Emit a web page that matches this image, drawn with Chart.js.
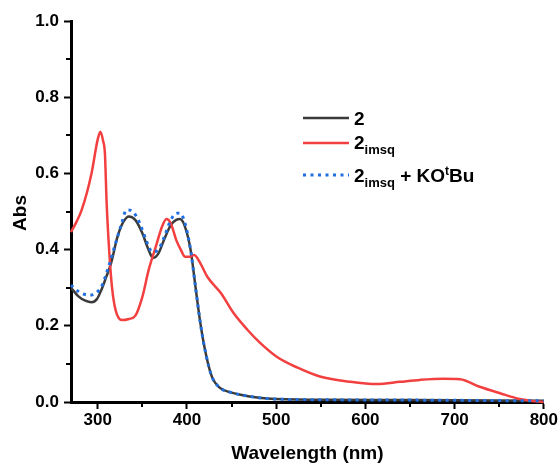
<!DOCTYPE html>
<html>
<head>
<meta charset="utf-8">
<script src="https://cdn.jsdelivr.net/npm/chart.js@4.4.0/dist/chart.umd.min.js"></script>
<style>
  html, body { margin: 0; padding: 0; background: #fff; }
  canvas { display: block; }
</style>
</head>
<body>
<canvas id="uvvis" width="559" height="466"></canvas>
<script>
// Spektren (Wellenlänge in nm, Absorbanz)
const wl2 = [270, 278, 286, 293, 299, 304, 309, 315, 322, 329, 335, 342, 350, 356, 362, 368, 375, 382, 388, 392, 397, 404, 410, 415, 421, 428, 437, 448, 460, 490, 550, 650, 800];
const abs2 = [0.300, 0.278, 0.266, 0.262, 0.270, 0.294, 0.325, 0.365, 0.433, 0.474, 0.487, 0.478, 0.443, 0.405, 0.378, 0.390, 0.430, 0.465, 0.478, 0.480, 0.465, 0.400, 0.294, 0.207, 0.128, 0.066, 0.037, 0.026, 0.019, 0.009, 0.006, 0.005, 0.003];

const wlImsq = [270, 276, 282, 293, 300, 303, 306, 308, 310, 313, 316, 320, 327, 335, 342, 350, 357, 365, 372, 377, 382, 388, 393, 398, 403, 408, 415, 423, 438, 452, 468, 482, 501, 524, 549, 583, 613, 639, 661, 687, 706, 728, 751, 773, 790, 800];
const absImsq = [0.446, 0.472, 0.504, 0.600, 0.690, 0.709, 0.685, 0.653, 0.520, 0.390, 0.300, 0.241, 0.215, 0.218, 0.226, 0.276, 0.346, 0.407, 0.460, 0.480, 0.468, 0.425, 0.400, 0.381, 0.381, 0.386, 0.364, 0.328, 0.286, 0.234, 0.189, 0.155, 0.118, 0.090, 0.067, 0.053, 0.047, 0.053, 0.058, 0.061, 0.060, 0.040, 0.023, 0.008, 0.002, 0.000];

const wlBase = [270, 279, 286, 293, 299, 304, 312, 320, 327, 332, 337, 343, 349, 355, 361, 368, 374, 382, 388, 392, 397, 404, 410, 415, 421, 428, 437, 448, 460, 490, 550, 650, 800];
const absBase = [0.307, 0.289, 0.282, 0.281, 0.288, 0.302, 0.354, 0.417, 0.470, 0.504, 0.503, 0.488, 0.458, 0.420, 0.394, 0.400, 0.430, 0.478, 0.495, 0.496, 0.475, 0.400, 0.294, 0.207, 0.128, 0.066, 0.037, 0.026, 0.019, 0.009, 0.006, 0.005, 0.003];

const xTicks = [300, 400, 500, 600, 700, 800];
const xMinor = [350, 450, 550, 650, 750];
const yTicks = [0, 0.2, 0.4, 0.6, 0.8, 1.0];
const yMinor = [0.1, 0.3, 0.5, 0.7, 0.9];

const FONT = "'Liberation Sans', Arial, sans-serif";
const colors = { black: '#3b3b3b', red: '#f23f3f', blue: '#1f6fe0' };

function toPoints(xs, ys) {
    return xs.map((x, i) => ({ x: x, y: ys[i] }));
}

// kleine Ticks, Achsentitel und Legende (mit Index) selbst zeichnen
const extrasPlugin = {
    id: 'extras',
    afterDraw(chart) {
        const ctx = chart.ctx;
        const area = chart.chartArea;
        const sx = chart.scales.x;
        const sy = chart.scales.y;

        ctx.save();
        ctx.strokeStyle = '#000';
        ctx.lineWidth = 2;
        xMinor.forEach(v => {
            const px = Math.round(sx.getPixelForValue(v));
            ctx.beginPath();
            ctx.moveTo(px, area.bottom);
            ctx.lineTo(px, area.bottom + 5);
            ctx.stroke();
        });
        yMinor.forEach(v => {
            const py = Math.round(sy.getPixelForValue(v));
            ctx.beginPath();
            ctx.moveTo(area.left - 5, py);
            ctx.lineTo(area.left, py);
            ctx.stroke();
        });

        // Achsentitel
        ctx.fillStyle = '#000';
        ctx.font = `bold 19px ${FONT}`;
        ctx.textAlign = 'center';
        ctx.textBaseline = 'alphabetic';
        ctx.fillText('Wavelength (nm)', (area.left + area.right) / 2, 459);
        ctx.save();
        ctx.translate(26, 213);
        ctx.rotate(-Math.PI / 2);
        ctx.fillText('Abs', 0, 0);
        ctx.restore();

        // Legende
        const rows = [
            { color: colors.black, dash: [], lineY: 118, base: 125, sub: false, rest: '' },
            { color: colors.red, dash: [], lineY: 143, base: 149, sub: true, rest: '' },
            { color: colors.blue, dash: [3, 4.5], lineY: 175, base: 182, sub: true, rest: 'KO' }
        ];
        rows.forEach(r => {
            ctx.strokeStyle = r.color;
            ctx.lineWidth = r.dash.length ? 3 : 2.5;
            ctx.setLineDash(r.dash);
            ctx.beginPath();
            ctx.moveTo(303, r.lineY);
            ctx.lineTo(349, r.lineY);
            ctx.stroke();
            ctx.setLineDash([]);

            ctx.textAlign = 'left';
            ctx.font = `bold 19px ${FONT}`;
            let x = 354;
            ctx.fillText('2', x, r.base);
            x += ctx.measureText('2').width;
            if (r.sub) {
                ctx.font = `bold 13px ${FONT}`;
                ctx.fillText('imsq', x, r.base + 5);
                x += ctx.measureText('imsq').width;
            }
            if (r.rest) {
                ctx.font = `bold 19px ${FONT}`;
                const s = ' + KO';
                ctx.fillText(s, x, r.base);
                x += ctx.measureText(s).width;
                ctx.font = `bold 12px ${FONT}`;
                ctx.fillText('t', x, r.base - 7);
                x += ctx.measureText('t').width;
                ctx.font = `bold 19px ${FONT}`;
                ctx.fillText('Bu', x, r.base);
            }
        });
        ctx.restore();
    }
};

function buildChart() {
    const canvas = document.getElementById('uvvis');
    const lineDefaults = { pointRadius: 0, borderWidth: 2.5, cubicInterpolationMode: 'monotone', clip: 4, fill: false };

    return new Chart(canvas, {
        type: 'line',
        data: {
            datasets: [
                Object.assign({ label: '2', data: toPoints(wl2, abs2), borderColor: colors.black, order: 2 }, lineDefaults),
                Object.assign({ label: '2imsq', data: toPoints(wlImsq, absImsq), borderColor: colors.red, order: 1 }, lineDefaults),
                Object.assign({ label: '2imsq + KOtBu', data: toPoints(wlBase, absBase), borderColor: colors.blue, borderDash: [3, 4.5], order: 0 }, lineDefaults, { borderWidth: 3 })
            ]
        },
        options: {
            responsive: false,
            animation: false,
            devicePixelRatio: 1,
            layout: { padding: { left: 0, top: 21, right: 14, bottom: 0 } },
            plugins: { legend: { display: false }, tooltip: { enabled: false } },
            scales: {
                x: {
                    type: 'linear',
                    min: 270,
                    max: 800,
                    afterFit: s => { s.height = 64; },
                    afterBuildTicks: s => { s.ticks = xTicks.map(v => ({ value: v })); },
                    border: { display: true, color: '#000', width: 3 },
                    grid: { drawOnChartArea: false, tickLength: 7, tickWidth: 2, tickColor: '#000' },
                    ticks: { color: '#000', padding: 1, maxRotation: 0, font: { family: FONT, size: 17, weight: 'bold' } }
                },
                y: {
                    min: 0,
                    max: 1,
                    afterFit: s => { s.width = 71; },
                    afterBuildTicks: s => { s.ticks = yTicks.map(v => ({ value: v })); },
                    border: { display: true, color: '#000', width: 3 },
                    grid: { drawOnChartArea: false, tickLength: 7, tickWidth: 2, tickColor: '#000' },
                    ticks: {
                        color: '#000',
                        padding: 5,
                        font: { family: FONT, size: 17, weight: 'bold' },
                        callback: v => Number(v).toFixed(1)
                    }
                }
            }
        },
        plugins: [extrasPlugin]
    });
}

buildChart();
</script>
</body>
</html>
